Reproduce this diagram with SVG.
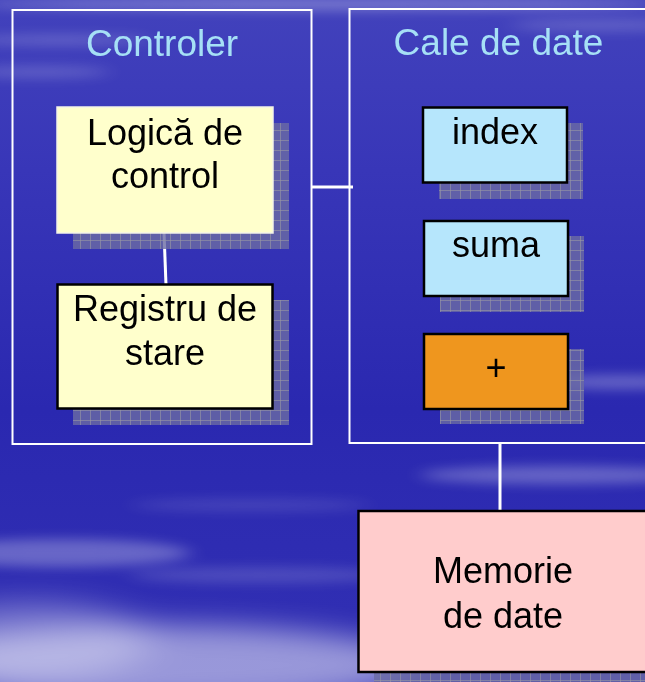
<svg xmlns="http://www.w3.org/2000/svg" width="645" height="682" viewBox="0 0 645 682">
<defs>
<linearGradient id="bg" x1="0" y1="0" x2="0" y2="1">
<stop offset="0" stop-color="#4242bc"/>
<stop offset="0.25" stop-color="#3836b8"/>
<stop offset="0.6" stop-color="#2a28b0"/>
<stop offset="1" stop-color="#3230b4"/>
</linearGradient>
<filter id="blur" x="-50%" y="-100%" width="200%" height="300%"><feGaussianBlur stdDeviation="10 6"/></filter>
<filter id="blurw" x="-50%" y="-100%" width="200%" height="300%"><feGaussianBlur stdDeviation="22 14"/></filter>
<pattern id="grid" width="10" height="10" patternUnits="userSpaceOnUse">
<rect width="10" height="10" fill="#6c6ca4" fill-opacity="0.8"/>
<path d="M0 0.5H10M0.5 0V10" stroke="#9a9aa4" stroke-width="1" stroke-opacity="0.6" fill="none"/>
</pattern>
<style>
.cont{fill:none;stroke:#ffffff;stroke-width:2}
.title{font-family:"Liberation Sans",Arial,sans-serif;font-size:37px;fill:#a6e0f6;text-anchor:middle}
.lbl{font-family:"Liberation Sans",Arial,sans-serif;font-size:36px;fill:#000000;text-anchor:middle}
.shadow{fill:url(#grid)}
.box{stroke:#000000;stroke-width:2.5}
.conn{stroke:#ffffff;stroke-width:3;fill:none}
</style>
</defs>
<g id="background">
<rect width="645" height="682" fill="url(#bg)"/>
<g filter="url(#blur)" fill="#ffffff">
<ellipse cx="320" cy="4" rx="340" ry="6" opacity="0.3"/>
<ellipse cx="60" cy="40" rx="90" ry="5" opacity="0.2"/>
<ellipse cx="40" cy="72" rx="70" ry="6" opacity="0.18"/>
<ellipse cx="600" cy="25" rx="90" ry="6" opacity="0.18"/>
<ellipse cx="620" cy="382" rx="80" ry="7" opacity="0.28"/>
<ellipse cx="560" cy="475" rx="140" ry="9" opacity="0.28"/>
<ellipse cx="250" cy="505" rx="120" ry="6" opacity="0.12"/>
<ellipse cx="60" cy="553" rx="130" ry="14" opacity="0.28"/>
<ellipse cx="260" cy="575" rx="130" ry="8" opacity="0.15"/>
</g>
<g filter="url(#blurw)" fill="#ffffff">
<ellipse cx="160" cy="665" rx="260" ry="40" opacity="0.5"/>
<ellipse cx="30" cy="640" rx="120" ry="40" opacity="0.3"/>
</g>
</g>
<g id="connectors">
<line class="conn" x1="164" y1="232" x2="166" y2="285"/>
<line class="conn" x1="311" y1="187" x2="353" y2="187"/>
<line class="conn" x1="500" y1="443" x2="500" y2="511"/>
</g>
<g id="controler">
<rect class="cont" x="12.5" y="10" width="299" height="434"/>
<text class="title" x="162" y="56">Controler</text>
</g>
<g id="cale-de-date">
<rect class="cont" x="349.5" y="9" width="300" height="434"/>
<text class="title" x="498.5" y="55">Cale de date</text>
</g>
<g id="logica-de-control">
<rect class="shadow" x="73" y="123" width="216" height="126"/>
<rect x="57" y="107" width="216" height="126" fill="#ffffcc" stroke="#f4f4e8" stroke-width="1.5"/>
<text class="lbl" x="165" y="145">Logică de</text>
<text class="lbl" x="165" y="188">control</text>
</g>
<g id="registru-de-stare">
<rect class="shadow" x="73" y="300" width="216" height="125"/>
<rect class="box" x="57.5" y="284.5" width="215" height="124" fill="#ffffcc"/>
<text class="lbl" x="165" y="321">Registru de</text>
<text class="lbl" x="165" y="365">stare</text>
</g>
<g id="index">
<rect class="shadow" x="439" y="123" width="144" height="76"/>
<rect class="box" x="423" y="107.5" width="144" height="75" fill="#b6e6fc"/>
<text class="lbl" x="495" y="144">index</text>
</g>
<g id="suma">
<rect class="shadow" x="440" y="236" width="144" height="76"/>
<rect class="box" x="424" y="221" width="144" height="75" fill="#b6e6fc"/>
<text class="lbl" x="496" y="257">suma</text>
</g>
<g id="plus">
<rect class="shadow" x="440" y="349" width="144" height="75"/>
<rect class="box" x="424" y="334" width="144" height="75" fill="#ef961e"/>
<text class="lbl" x="496" y="380">+</text>
</g>
<g id="memorie-de-date">
<rect class="shadow" x="374" y="527" width="290" height="170"/>
<rect class="box" x="358.5" y="511" width="290" height="161" fill="#ffcccc"/>
<text class="lbl" x="503" y="583">Memorie</text>
<text class="lbl" x="503" y="628">de date</text>
</g>
</svg>
